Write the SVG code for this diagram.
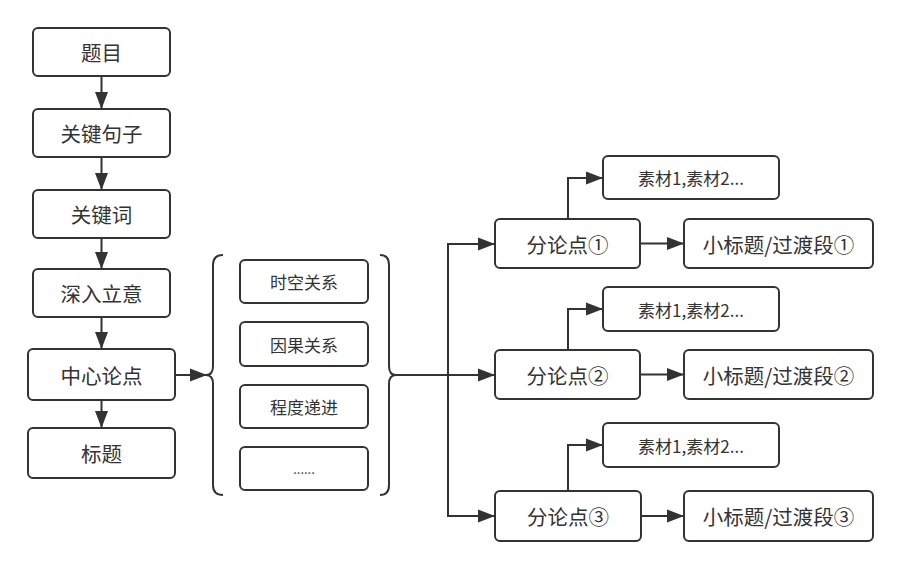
<svg xmlns="http://www.w3.org/2000/svg" width="902" height="569" viewBox="0 0 902 569">
<defs>
<style>
.box{fill:#fff;stroke:#333;stroke-width:2}
.t{font-family:"Noto Sans CJK SC","Noto Sans",sans-serif;font-size:20.5px;fill:#333;text-anchor:middle;dominant-baseline:central}
.s{font-size:17px}
.c{fill:none;stroke:#333;stroke-width:2}
.a{marker-end:url(#arr)}
</style>
<marker id="arr" markerUnits="userSpaceOnUse" markerWidth="18" markerHeight="14" refX="17" refY="7" orient="auto">
<path d="M0,0.5 L17,7 L0,13.5 Z" fill="#333"/>
</marker>
</defs>
<rect width="902" height="569" fill="#fff"/>
<g id="connectors">
<path class="c a" d="M101.5,76 V109"/>
<path class="c a" d="M101.5,157 V190"/>
<path class="c a" d="M101.5,238 V269"/>
<path class="c a" d="M101.5,317 V349"/>
<path class="c a" d="M101.5,400 V428"/>
<path class="c a" d="M175,375 H207"/>
<path class="c" d="M223,255 Q213,255 213,265 V366 Q213,375 206,375 Q213,375 213,384 V485 Q213,495 223,495"/>
<path class="c" d="M380,255 Q389,255 389,265 V366 Q389,375 396,375 Q389,375 389,384 V485 Q389,495 380,495"/>
<path class="c a" d="M395,375 H495"/>
<path class="c a" d="M448,375 V244 H495"/>
<path class="c a" d="M448,375 V516 H495"/>
<path class="c a" d="M568,219 V178 H603"/>
<path class="c a" d="M568,350 V309 H603"/>
<path class="c a" d="M568,491 V445 H603"/>
<path class="c a" d="M640,243.5 H684"/>
<path class="c a" d="M640,374.5 H684"/>
<path class="c a" d="M641,516 H684"/>
</g>
<g id="n1"><rect class="box" x="33" y="28" width="137" height="48" rx="5"/><text class="t" x="101.5" y="52">题目</text></g>
<g id="n2"><rect class="box" x="33" y="109" width="137" height="48" rx="5"/><text class="t" x="101.5" y="133">关键句子</text></g>
<g id="n3"><rect class="box" x="33" y="190" width="137" height="48" rx="5"/><text class="t" x="101.5" y="214">关键词</text></g>
<g id="n4"><rect class="box" x="33" y="269" width="137" height="48" rx="5"/><text class="t" x="101.5" y="293">深入立意</text></g>
<g id="n5"><rect class="box" x="28" y="349" width="147" height="51" rx="5"/><text class="t" x="101.5" y="374.5">中心论点</text></g>
<g id="n6"><rect class="box" x="28" y="428" width="147" height="50" rx="5"/><text class="t" x="101.5" y="453">标题</text></g>
<g id="r1"><rect class="box" x="240" y="260" width="128" height="43" rx="5"/><text class="t s" x="304" y="281.5">时空关系</text></g>
<g id="r2"><rect class="box" x="240" y="322" width="128" height="44" rx="5"/><text class="t s" x="304" y="344">因果关系</text></g>
<g id="r3"><rect class="box" x="240" y="385" width="128" height="43" rx="5"/><text class="t s" x="304" y="406.5">程度递进</text></g>
<g id="r4"><rect class="box" x="240" y="447" width="128" height="43" rx="5"/><text class="t s" x="304" y="468.5" style="font-size:13px">......</text></g>
<g id="p1"><rect class="box" x="495" y="219" width="145" height="49" rx="5"/><text class="t" x="567.5" y="243.5">分论点①</text></g>
<g id="p2"><rect class="box" x="495" y="350" width="145" height="49" rx="5"/><text class="t" x="567.5" y="374.5">分论点②</text></g>
<g id="p3"><rect class="box" x="495" y="491" width="146" height="50" rx="5"/><text class="t" x="568" y="516">分论点③</text></g>
<g id="m1"><rect class="box" x="603" y="156" width="176" height="43" rx="5"/><text class="t s" x="691" y="177.5">素材1,素材2...</text></g>
<g id="m2"><rect class="box" x="603" y="287" width="176" height="44" rx="5"/><text class="t s" x="691" y="309">素材1,素材2...</text></g>
<g id="m3"><rect class="box" x="603" y="423" width="176" height="44" rx="5"/><text class="t s" x="691" y="445">素材1,素材2...</text></g>
<g id="h1"><rect class="box" x="684" y="219" width="189" height="49" rx="5"/><text class="t" x="778.5" y="243.5">小标题/过渡段①</text></g>
<g id="h2"><rect class="box" x="684" y="350" width="189" height="49" rx="5"/><text class="t" x="778.5" y="374.5">小标题/过渡段②</text></g>
<g id="h3"><rect class="box" x="684" y="491" width="189" height="50" rx="5"/><text class="t" x="778.5" y="516">小标题/过渡段③</text></g>
</svg>
